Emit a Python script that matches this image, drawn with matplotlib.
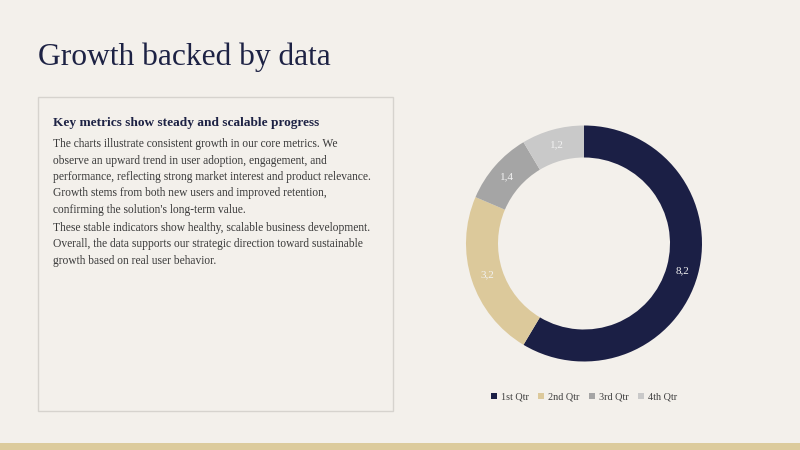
import matplotlib.pyplot as plt
from matplotlib.patches import Rectangle

# data
quarters = ["1st Qtr", "2nd Qtr", "3rd Qtr", "4th Qtr"]
sales = [8.2, 3.2, 1.4, 1.2]
colors = ["#1b1f45", "#dcc99b", "#a5a5a5", "#c9c9c9"]

title = "Growth backed by data"
heading = "Key metrics show steady and scalable progress"
para1 = [
    "The charts illustrate consistent growth in our core metrics. We",
    "observe an upward trend in user adoption, engagement, and",
    "performance, reflecting strong market interest and product relevance.",
    "Growth stems from both new users and improved retention,",
    "confirming the solution's long-term value.",
]
para2 = [
    "These stable indicators show healthy, scalable business development.",
    "Overall, the data supports our strategic direction toward sustainable",
    "growth based on real user behavior.",
]

W, H = 800, 450
bg = "#f3f0eb"
navy = "#1d2244"
body = "#3a3a3a"

plt.rcParams['font.family'] = ['Liberation Serif', 'DejaVu Serif']
fig = plt.figure(figsize=(8, 4.5), dpi=100, facecolor=bg)


def px(x, y):
    return x / W, 1 - y / H


# bottom band
fig.patches.append(Rectangle((0, 0), 1, 7 / H, transform=fig.transFigure,
                             facecolor="#dccb9c", edgecolor="none"))

# text panel
fig.patches.append(Rectangle(px(38, 411), 355 / W, 314 / H, transform=fig.transFigure,
                             facecolor="none", edgecolor="#d6d3ce", linewidth=1))

fig.text(*px(38, 65), title, fontsize=22.7, color=navy, va="baseline", ha="left")
fig.text(*px(53, 126), heading, fontsize=9.6, fontweight="bold", color=navy,
         va="baseline", ha="left")

y = 147.5
for line in para1:
    fig.text(*px(53, y), line, fontsize=8.3, color=body, va="baseline", ha="left")
    y += 16.3
y += 2
for line in para2:
    fig.text(*px(53, y), line, fontsize=8.3, color=body, va="baseline", ha="left")
    y += 16.3

# donut
cx, cy, r = 584, 243.5, 120
ax = fig.add_axes([(cx - r) / W, (H - cy - r) / H, 2 * r / W, 2 * r / H])
ax.set_facecolor(bg)
outer = 118 / r
width = 32 / r
wedges, texts = ax.pie(
    sales, colors=colors, radius=outer, startangle=90, counterclock=False,
    labels=[f"{v:.1f}".replace(".", ",") for v in sales],
    labeldistance=(outer - width / 2) / outer,
    wedgeprops=dict(width=width, edgecolor="none"),
    textprops=dict(color="#f2f2f2", fontsize=8, ha="center", va="center"),
)
for t in texts:
    t.set_ha("center")
    t.set_va("center")
ax.set_xlim(-1, 1)
ax.set_ylim(-1, 1)
ax.axis("off")

leg = fig.legend(wedges, quarters, loc="center", bbox_to_anchor=px(584, 397),
                 ncol=4, frameon=False, fontsize=7.3, handlelength=0.6,
                 handleheight=0.6, handletextpad=0.4, columnspacing=0.9,
                 labelcolor="#404040")

fig.savefig("out.png", dpi=100, facecolor=bg)
